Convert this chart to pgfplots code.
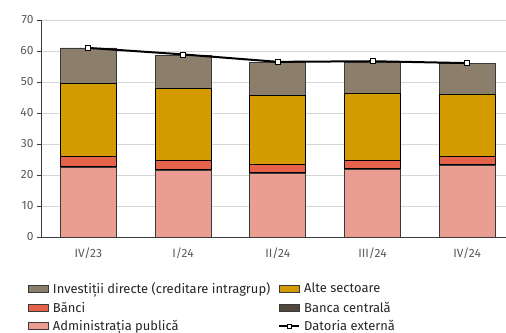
\documentclass[border=0pt]{standalone}
\usepackage{fontspec}
\setmainfont{Fira Sans}
\usepackage{pgfplots}
\pgfplotsset{compat=1.18}
\usepackage{pgfplotstable}

\definecolor{cAdmin}{HTML}{EA9E92}
\definecolor{cCentral}{HTML}{51473B}
\definecolor{cBanci}{HTML}{E5634A}
\definecolor{cAlte}{HTML}{D49B00}
\definecolor{cInvest}{HTML}{8B7E6B}
\definecolor{tickgray}{HTML}{595959}
\definecolor{edge}{HTML}{3A3A3A}

% values in bn EUR, quarters IV/23 .. IV/24
\pgfplotstableread{
x admin central banci alte invest datoria
0 22.5 0.4 3.1 23.6 11.4 61.0
1 21.4 0.4 2.9 23.1 10.8 58.9
2 20.5 0.4 2.6 22.2 10.5 56.5
3 21.8 0.3 2.6 21.5 10.0 56.7
4 23.1 0.3 2.7 19.8 10.1 56.1
}\datatable

\pgfplotsset{
    boxlegend/.style={legend image code/.code={
        \draw[##1, line width=0.8bp] (0bp,-3.5bp) rectangle (20bp,3.5bp);}},
    linelegend/.style={legend image code/.code={
        \draw[##1, sharp plot, mark repeat=2, mark phase=2]
            plot coordinates {(0bp,0bp) (10bp,0bp) (20bp,0bp)};}},
    samebox/.style={scale only axis, width=465bp, height=217bp,
        xmin=-0.5, xmax=4.41, ymin=0, ymax=70},
}

\begin{document}
\begin{tikzpicture}
\begin{axis}[
    samebox,
    ytick={0,10,...,70},
    xtick={0,1,2,3,4},
    xticklabels={IV/23,I/24,II/24,III/24,IV/24},
    x tick style={draw=none},
    extra x ticks={-0.5,0.5,1.5,2.5,3.5},
    extra x tick labels={},
    extra x tick style={major tick length=5bp, tick align=outside,
        tick style={draw=edge, line width=0.8bp}, grid=none},
    y tick style={draw=edge, line width=0.8bp},
    major tick length=4bp, tick align=outside,
    axis x line*=bottom, axis y line*=left,
    axis line style={draw=edge, line width=1bp},
    ymajorgrids=true,
    grid style={draw=black!16, line width=0.9bp},
    tick label style={font=\fontsize{12}{14}\selectfont, text=tickgray},
    /pgf/number format/assume math mode=true,
    xticklabel style={yshift=-3bp},
    ybar stacked, bar width=56bp,
    legend columns=2,
    legend cell align=left,
    legend style={at={(-0.028,-0.199)}, anchor=north west, draw=none,
        font=\fontsize{13}{15}\selectfont, text=black!85,
        inner sep=0pt, row sep=3bp,
        /tikz/every even column/.append style={column sep=6bp},
        /tikz/every odd column/.append style={column sep=2bp}},
]
\addplot[fill=cAdmin, draw=edge, line width=0.7bp, forget plot] table[x=x, y=admin] {\datatable};
\addplot[fill=cCentral, draw=black, line width=0.7bp, forget plot] table[x=x, y=central] {\datatable};
\addplot[fill=cBanci, draw=black, line width=0.7bp, forget plot] table[x=x, y=banci] {\datatable};
\addplot[fill=cAlte, draw=black, line width=0.7bp, forget plot] table[x=x, y=alte] {\datatable};
\addplot[fill=cInvest, draw=edge, line width=0.7bp, forget plot] table[x=x, y=invest] {\datatable};

\addlegendimage{boxlegend, fill=cInvest, draw=edge}
\addlegendentry{Investiții directe (creditare intragrup)}
\addlegendimage{boxlegend, fill=cAlte, draw=edge}
\addlegendentry{Alte sectoare}
\addlegendimage{boxlegend, fill=cBanci, draw=edge}
\addlegendentry{Bănci}
\addlegendimage{boxlegend, fill=cCentral, draw=edge}
\addlegendentry{Banca centrală}
\addlegendimage{boxlegend, fill=cAdmin, draw=edge}
\addlegendentry{Administrația publică}
\addlegendimage{linelegend, draw=black, line width=1.8bp, mark=square*, mark size=2.2bp,
    mark options={fill=white, draw=black, line width=0.7bp}}
\addlegendentry{Datoria externă}
\end{axis}
% external debt line on its own axis so it is not stacked
\begin{axis}[samebox, hide axis, clip=false]
\addplot[sharp plot, draw=black, line width=2bp, mark=square*, mark size=2.5bp,
    mark options={fill=white, draw=black, line width=0.8bp}]
    table[x=x, y=datoria] {\datatable};
\end{axis}
\pgfresetboundingbox
\path ([xshift=-41bp,yshift=-96bp]current axis.south west) rectangle ([yshift=20bp]current axis.north east);
\end{tikzpicture}
\end{document}
